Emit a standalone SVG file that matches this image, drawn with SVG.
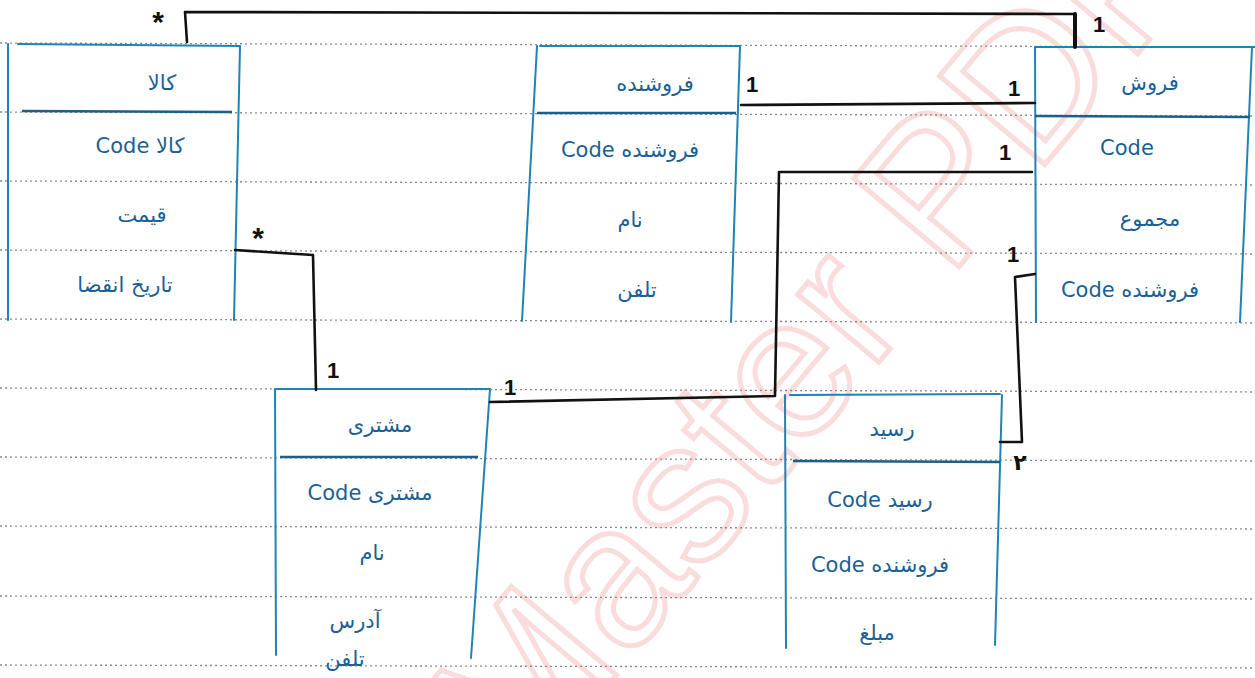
<svg xmlns="http://www.w3.org/2000/svg" width="1255" height="678" viewBox="0 0 1255 678">
<defs>
<style>
.paper{stroke:#8a8a8a;stroke-width:1.3;stroke-dasharray:2 3;fill:none}
.box{stroke:#1f84b5;stroke-width:2;fill:none;stroke-linecap:round}
.div{stroke:#1d5f86;stroke-width:2.4;fill:none}
.conn{stroke:#111;stroke-width:2.6;fill:none;stroke-linejoin:round;stroke-linecap:round}
.t{font-family:"DejaVu Sans","Noto Sans",sans-serif;font-size:21px;fill:#1a5f95;text-anchor:middle}
.m{font-family:"Liberation Sans","DejaVu Sans",sans-serif;font-size:22px;fill:#111;text-anchor:middle;font-weight:bold}
.wm{font-family:"Liberation Sans",sans-serif;font-size:200px;fill:none;stroke:#fadcdc;stroke-width:5}
</style>
</defs>
<rect width="1255" height="678" fill="#ffffff"/>
<g id="watermark">
<text class="wm" transform="translate(520,790) rotate(-50)">Master PDF</text>
</g>
<g id="paper">
<line class="paper" x1="0" y1="43" x2="1255" y2="47"/>
<line class="paper" x1="0" y1="112" x2="1255" y2="116"/>
<line class="paper" x1="0" y1="181" x2="1255" y2="185"/>
<line class="paper" x1="0" y1="250" x2="1255" y2="254"/>
<line class="paper" x1="0" y1="319" x2="1255" y2="323"/>
<line class="paper" x1="0" y1="388" x2="1255" y2="392"/>
<line class="paper" x1="0" y1="457" x2="1255" y2="461"/>
<line class="paper" x1="0" y1="526" x2="1255" y2="529"/>
<line class="paper" x1="0" y1="596" x2="1255" y2="599"/>
<line class="paper" x1="0" y1="665" x2="1255" y2="668"/>
</g>
<g id="kala">
<path class="box" d="M18,44 L240,46 M8,44 L8,320 M240,46 L234,320"/>
<path class="div" d="M22,111 L232,112"/>
<text class="t" x="162" y="90">کالا</text>
<text class="t" x="140" y="153">Code  کالا</text>
<text class="t" x="142" y="222">قیمت</text>
<text class="t" x="125" y="292">تاریخ انقضا</text>
</g>
<g id="forooshande">
<path class="box" d="M540,46 L740,46 M537,46 L522,321 M740,46 L731,322"/>
<path class="div" d="M537,113 L736,113"/>
<text class="t" x="655" y="91">فروشنده</text>
<text class="t" x="630" y="157">Code فروشنده</text>
<text class="t" x="630" y="227">نام</text>
<text class="t" x="637" y="297">تلفن</text>
</g>
<g id="foroosh">
<path class="box" d="M1035,47 L1255,47 M1035,47 L1036,322 M1252,47 L1240,322"/>
<path class="div" d="M1035,116 L1250,117"/>
<text class="t" x="1150" y="90">فروش</text>
<text class="t" x="1127" y="155">Code</text>
<text class="t" x="1150" y="226">مجموع</text>
<text class="t" x="1130" y="297">Code فروشنده</text>
</g>
<g id="moshtari">
<path class="box" d="M275,389 L490,389 M275,389 L276,655 M490,389 L471,658"/>
<path class="div" d="M280,457 L478,457"/>
<text class="t" x="380" y="432">مشتری</text>
<text class="t" x="370" y="500">Code مشتری</text>
<text class="t" x="372" y="560">نام</text>
<text class="t" x="355" y="628">آدرس</text>
<text class="t" x="345" y="666">تلفن</text>
</g>
<g id="resid">
<path class="box" d="M790,395 L1000,394 M785,395 L786,648 M1002,395 L995,645"/>
<path class="div" d="M793,461 L1000,462"/>
<text class="t" x="892" y="436">رسید</text>
<text class="t" x="880" y="507">Code رسید</text>
<text class="t" x="880" y="572">Code فروشنده</text>
<text class="t" x="877" y="640">مبلغ</text>
</g>
<g id="connectors">
<path class="conn" d="M187,42 L185,12 L1075,14"/>
<path class="conn" style="stroke-width:4" d="M1075,14 L1075,47"/>
<path class="conn" d="M741,105 L1035,103"/>
<path class="conn" d="M235,250 L313,255 L316,390"/>
<path class="conn" d="M490,402 L775,396 L779,172 L1032,172"/>
<path class="conn" d="M1035,274 L1015,277 L1022,442 L1000,442"/>
</g>
<g id="multiplicities">
<text class="m" x="158" y="32" style="font-size:30px">*</text>
<text class="m" x="1099" y="32">1</text>
<text class="m" x="752" y="92">1</text>
<text class="m" x="1014" y="96">1</text>
<text class="m" x="1005" y="160">1</text>
<text class="m" x="258" y="248" style="font-size:30px">*</text>
<text class="m" x="333" y="378">1</text>
<text class="m" x="510" y="395">1</text>
<text class="m" x="1013" y="262">1</text>
<text class="m" x="1020" y="470">۲</text>
</g>
</svg>
